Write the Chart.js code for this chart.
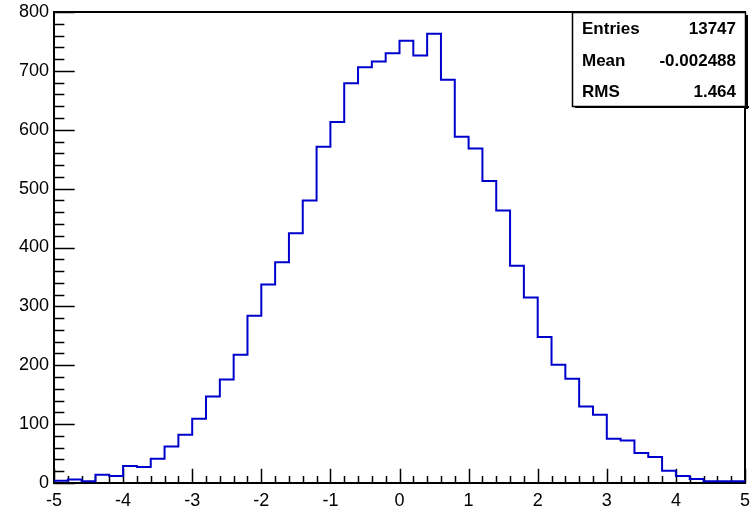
<!DOCTYPE html>
<html>
<head>
<meta charset="utf-8">
<script src="https://cdn.jsdelivr.net/npm/chart.js@4.4.1/dist/chart.umd.min.js"></script>
<style>
  html, body { margin: 0; padding: 0; background: #ffffff; }
  #wrap { width: 755px; height: 506px; }
</style>
</head>
<body>
<div id="wrap"><canvas id="hist" width="755" height="506"></canvas></div>
<script>
// Bin edges of the histogram (50 bins of width 0.2 between -5 and 5)
const binEdges = [
  -5.0, -4.8, -4.6, -4.4, -4.2, -4.0, -3.8, -3.6, -3.4, -3.2,
  -3.0, -2.8, -2.6, -2.4, -2.2, -2.0, -1.8, -1.6, -1.4, -1.2,
  -1.0, -0.8, -0.6, -0.4, -0.2,  0.0,  0.2,  0.4,  0.6,  0.8,
   1.0,  1.2,  1.4,  1.6,  1.8,  2.0,  2.2,  2.4,  2.6,  2.8,
   3.0,  3.2,  3.4,  3.6,  3.8,  4.0,  4.2,  4.4,  4.6,  4.8,
   5.0
];

// Entries per bin
const binCounts = [
    4,   6,   3,  14,  12,  29,  27,  41,  62,  82,
  109, 147, 176, 218, 284, 337, 375, 424, 480, 571,
  613, 679, 706, 716, 730, 751, 726, 763, 685, 588,
  568, 513, 463, 369, 315, 248, 201, 177, 130, 116,
   75,  72,  51,  44,  21,  12,   7,   3,   3,   3
];

// Axis tick values
const xTickValues = [-5, -4, -3, -2, -1, 0, 1, 2, 3, 4, 5];
const yTickValues = [0, 100, 200, 300, 400, 500, 600, 700, 800];

// Statistics box rows
const statLabels = ['Entries', 'Mean', 'RMS'];
const statValues = ['13747', '-0.002488', '1.464'];

const FONT = '"Liberation Sans", Arial, Helvetica, sans-serif';

// Step outline: each bin edge carries the count of the bin that starts there;
// the last edge repeats the final bin so its top is drawn to x = 5.
const stepPoints = binEdges.map((x, i) => ({
  x: x,
  y: binCounts[Math.min(i, binCounts.length - 1)]
}));

// Frame and inward-pointing major/minor ticks, drawn through the scales
const frameTicks = {
  id: 'frameTicks',
  beforeDatasetsDraw(chart) {
    const { ctx, chartArea: a, scales: { x, y } } = chart;
    const yMajor = (a.right - a.left) * 0.03;
    const xMajor = (a.bottom - a.top) * 0.03;
    ctx.save();
    ctx.strokeStyle = '#000000';
    ctx.lineWidth = 1.5;
    ctx.beginPath();
    // y axis ticks: major every 100, minor every 20
    for (let v = y.min; v <= y.max + 1e-9; v += 20) {
      const py = Math.round(y.getPixelForValue(v)) + 0.5;
      const len = (Math.round(v) % 100 === 0) ? yMajor : yMajor / 2;
      ctx.moveTo(a.left, py);
      ctx.lineTo(a.left + len, py);
    }
    // x axis ticks: major every 1, minor every 0.2
    for (let k = 0; k <= 50; k++) {
      const v = x.min + k * 0.2;
      const px = Math.round(x.getPixelForValue(v)) + 0.5;
      const len = (k % 5 === 0) ? xMajor : xMajor / 2;
      ctx.moveTo(px, a.bottom);
      ctx.lineTo(px, a.bottom - len);
    }
    ctx.stroke();
    ctx.lineWidth = 2;
    ctx.strokeRect(a.left, a.top, a.right - a.left, a.bottom - a.top);
    ctx.restore();
  },
  afterDatasetsDraw(chart) {
    const { ctx, chartArea: a } = chart;
    const left = 572, top = a.top, right = a.right + 1, bottom = 106;
    ctx.save();
    // shadow
    ctx.fillStyle = '#000000';
    ctx.fillRect(left + 3, bottom, right - left, 2);
    ctx.fillRect(right, top + 3, 2, bottom - top);
    // box
    ctx.fillStyle = '#ffffff';
    ctx.fillRect(left, top, right - left, bottom - top);
    ctx.strokeStyle = '#000000';
    ctx.lineWidth = 1.5;
    ctx.strokeRect(left + 0.5, top + 0.5, right - left - 1, bottom - top);
    ctx.fillStyle = '#000000';
    ctx.font = 'bold 17px ' + FONT;
    ctx.textBaseline = 'middle';
    const rowY = [29.5, 61.5, 92];
    statLabels.forEach((lab, i) => {
      ctx.textAlign = 'left';
      ctx.fillText(lab, 582, rowY[i]);
      ctx.textAlign = 'right';
      ctx.fillText(statValues[i], 736, rowY[i]);
    });
    ctx.restore();
  }
};

new Chart(document.getElementById('hist'), {
  type: 'line',
  data: {
    datasets: [{
      data: stepPoints,
      stepped: 'before',
      borderColor: '#0000cc',
      borderWidth: 2,
      pointRadius: 0,
      fill: false,
      tension: 0
    }]
  },
  options: {
    responsive: false,
    devicePixelRatio: 1,
    animation: false,
    layout: { padding: { top: 12, right: 10, left: 0, bottom: 0 } },
    plugins: { legend: { display: false }, tooltip: { enabled: false } },
    scales: {
      x: {
        type: 'linear',
        min: -5, max: 5,
        grid: { display: false, drawTicks: false },
        border: { display: false },
        afterBuildTicks(scale) { scale.ticks = xTickValues.map(v => ({ value: v })); },
        afterFit(scale) { scale.height = 23; scale.paddingLeft = 0; scale.paddingRight = 0; },
        ticks: {
          color: '#000000',
          font: { family: FONT, size: 18 },
          padding: 7,
          maxRotation: 0,
          autoSkip: false,
          callback: v => String(v)
        }
      },
      y: {
        min: 0, max: 800,
        grid: { display: false, drawTicks: false },
        border: { display: false },
        afterBuildTicks(scale) { scale.ticks = yTickValues.map(v => ({ value: v })); },
        afterFit(scale) { scale.width = 54; scale.paddingTop = 0; scale.paddingBottom = 0; },
        ticks: {
          color: '#000000',
          font: { family: FONT, size: 18 },
          padding: 5,
          callback: v => String(v)
        }
      }
    }
  },
  plugins: [frameTicks]
});
</script>
</body>
</html>
